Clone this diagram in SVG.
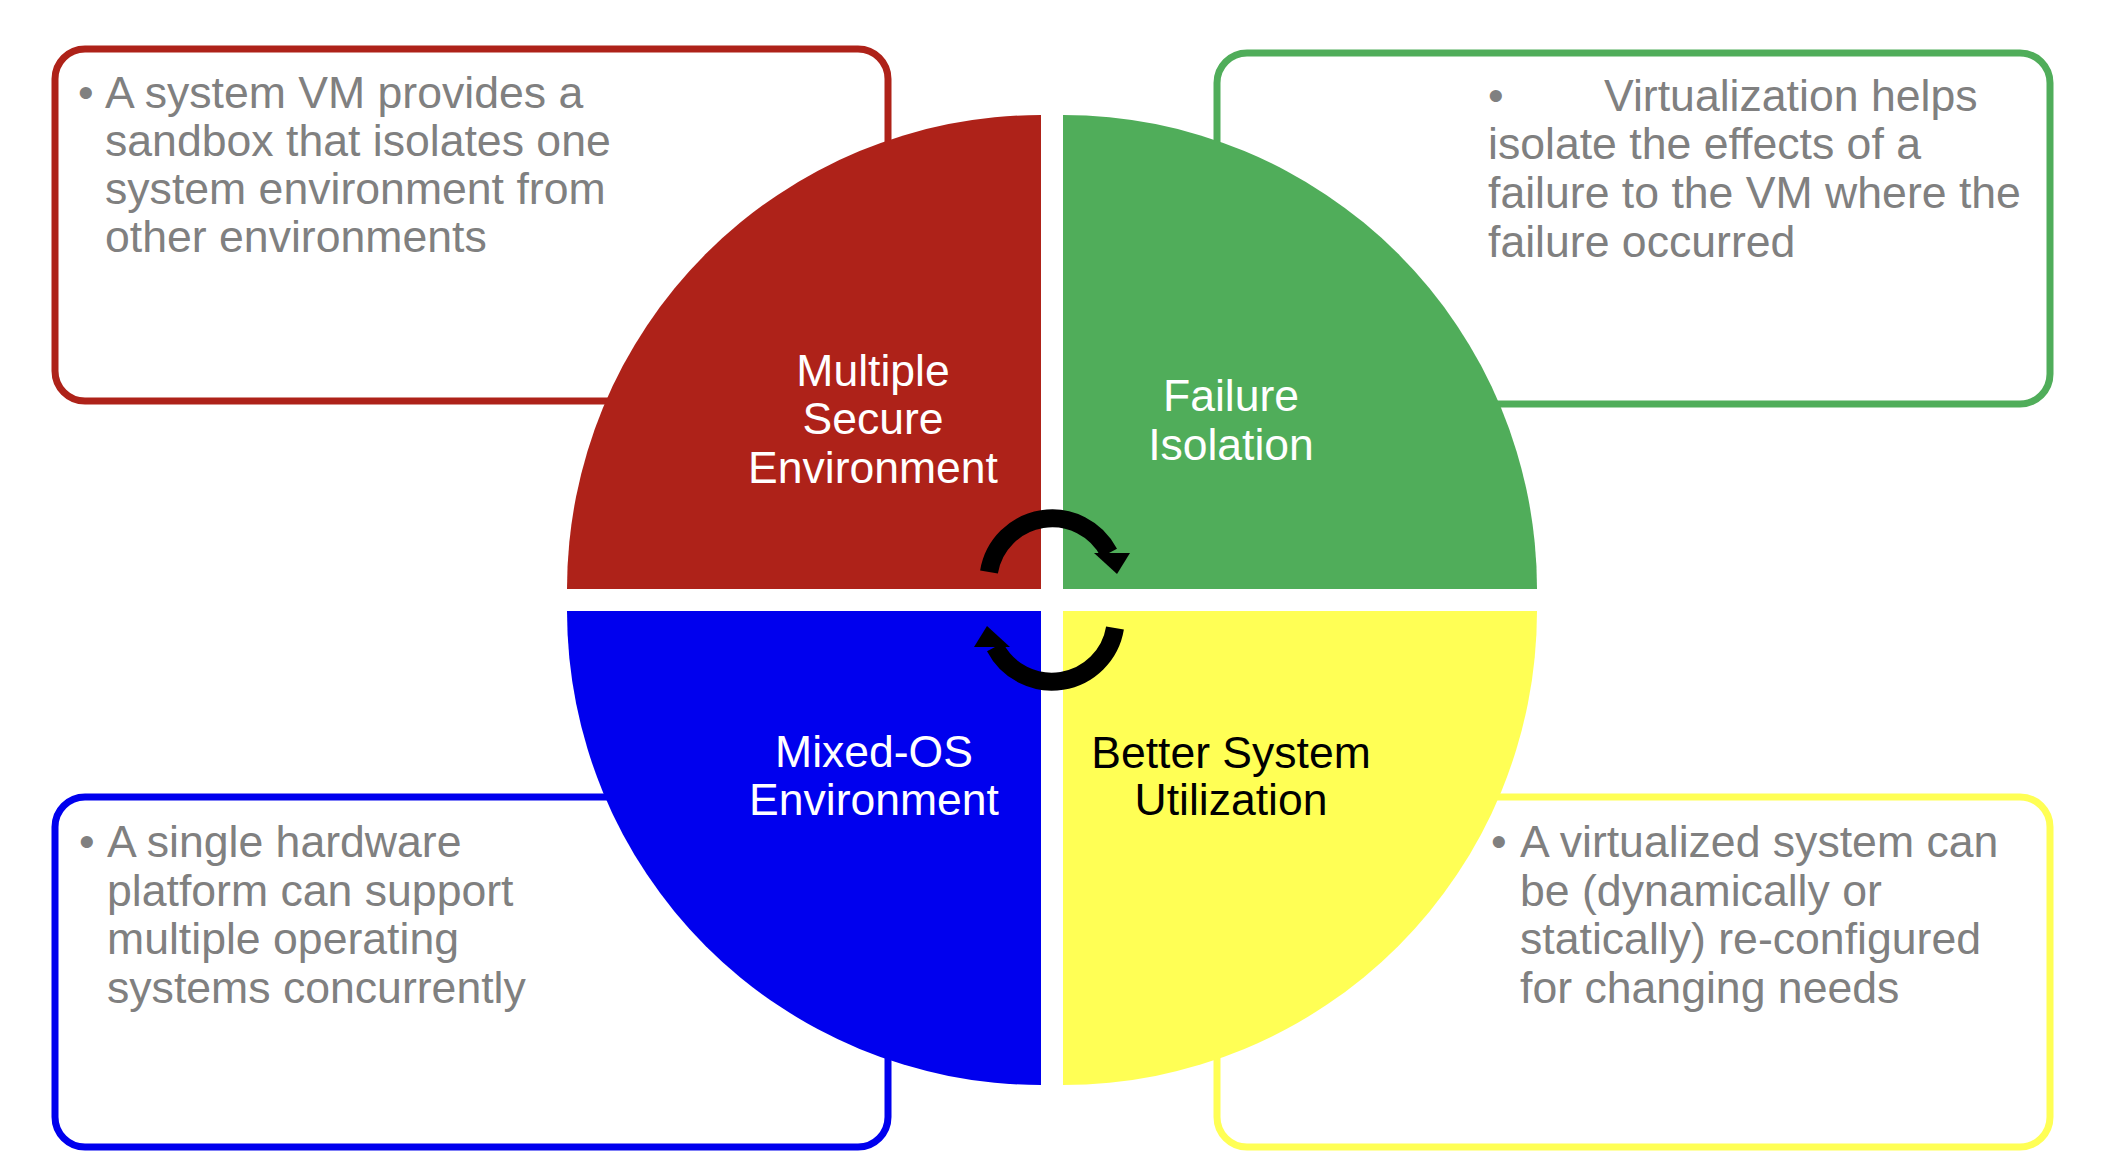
<svg xmlns="http://www.w3.org/2000/svg" xmlns:xlink="http://www.w3.org/1999/xlink" width="2102" height="1172" viewBox="0 0 2102 1172">
<defs>
<style>
.box{fill:#ffffff;stroke-width:7}
.desc{font-family:"Liberation Sans",Arial,sans-serif;font-size:44.6px;fill:#808080}
.lbl{font-family:"Liberation Sans",Arial,sans-serif;font-size:44.5px;text-anchor:middle}
.arc{fill:none;stroke:#000000;stroke-width:18}
</style>
<g id="arrowShape">
<path class="arc" d="M989,572 A64,64 0 0 1 1109,553"/>
<polygon points="1094,553 1130,553 1117,574" fill="#000000"/>
</g>
</defs>
<rect width="2102" height="1172" fill="#ffffff"/>

<g id="box-secure">
<rect class="box" x="55" y="49" width="833" height="352" rx="30" ry="30" stroke="#AE2219"/>
<text class="desc"><tspan x="78" y="108">•</tspan><tspan x="105" y="108">A system VM provides a</tspan><tspan x="105" y="156">sandbox that isolates one</tspan><tspan x="105" y="204">system environment from</tspan><tspan x="105" y="252">other environments</tspan></text>
</g>
<g id="box-failure">
<rect class="box" x="1217" y="53" width="833" height="351" rx="30" ry="30" stroke="#50AD5A"/>
<text class="desc"><tspan x="1488" y="111">•</tspan><tspan x="1604" y="111">Virtualization helps</tspan><tspan x="1488" y="159">isolate the effects of a</tspan><tspan x="1488" y="208">failure to the VM where the</tspan><tspan x="1488" y="257">failure occurred</tspan></text>
</g>
<g id="box-mixed">
<rect class="box" x="55" y="797" width="833" height="350" rx="30" ry="30" stroke="#0000EE"/>
<text class="desc"><tspan x="79" y="857">•</tspan><tspan x="107" y="857">A single hardware</tspan><tspan x="107" y="906">platform can support</tspan><tspan x="107" y="954">multiple operating</tspan><tspan x="107" y="1003">systems concurrently</tspan></text>
</g>
<g id="box-utilization">
<rect class="box" x="1217" y="797" width="833" height="350" rx="30" ry="30" stroke="#FFFF55"/>
<text class="desc"><tspan x="1491" y="857">•</tspan><tspan x="1520" y="857">A virtualized system can</tspan><tspan x="1520" y="906">be (dynamically or</tspan><tspan x="1520" y="954">statically) re-configured</tspan><tspan x="1520" y="1003">for changing needs</tspan></text>
</g>

<g id="node-secure">
<path d="M1041,589 L567,589 A474,474 0 0 1 1041,115 Z" fill="#AE2219"/>
<text class="lbl" fill="#ffffff"><tspan x="873" y="386">Multiple</tspan><tspan x="873" y="434">Secure</tspan><tspan x="873" y="483">Environment</tspan></text>
</g>
<g id="node-failure">
<path d="M1063,589 L1063,115 A474,474 0 0 1 1537,589 Z" fill="#50AD5A"/>
<text class="lbl" fill="#ffffff"><tspan x="1231" y="411">Failure</tspan><tspan x="1231" y="460">Isolation</tspan></text>
</g>
<g id="node-mixed">
<path d="M1041,611 L1041,1085 A474,474 0 0 1 567,611 Z" fill="#0000EE"/>
<text class="lbl" fill="#ffffff"><tspan x="874" y="767">Mixed-OS</tspan><tspan x="874" y="815">Environment</tspan></text>
</g>
<g id="node-utilization">
<path d="M1063,611 L1537,611 A474,474 0 0 1 1063,1085 Z" fill="#FFFF55"/>
<text class="lbl" fill="#000000"><tspan x="1231" y="768">Better System</tspan><tspan x="1231" y="815">Utilization</tspan></text>
</g>

<g id="connectors">
<use xlink:href="#arrowShape"/>
<use xlink:href="#arrowShape" transform="rotate(180 1052 600)"/>
</g>
</svg>
